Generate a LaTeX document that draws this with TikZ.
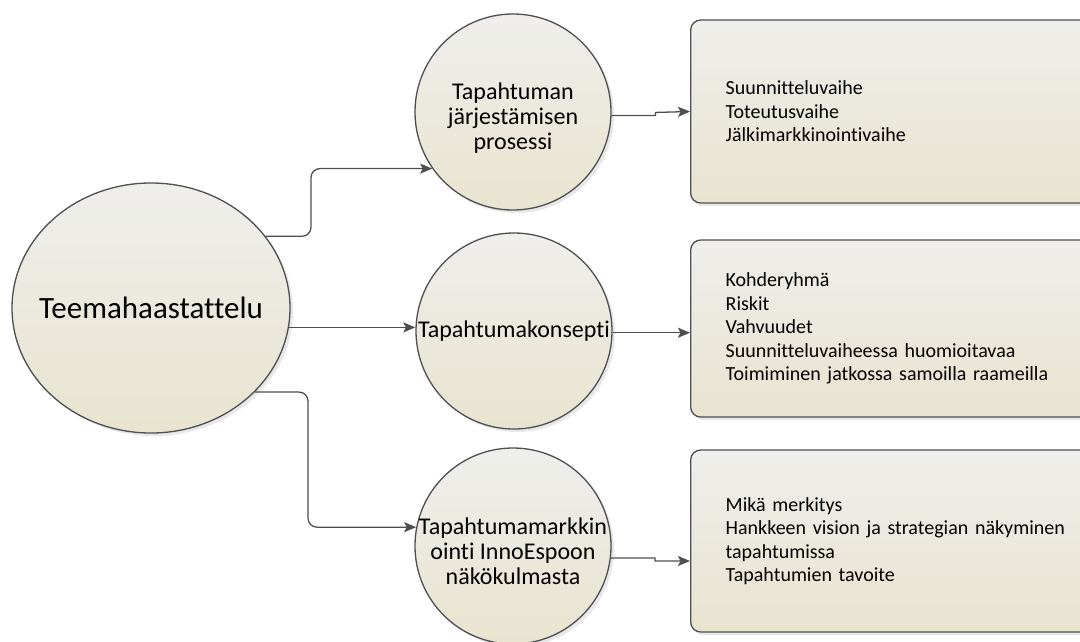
\documentclass[tikz,border=0pt]{standalone}
\usepackage{fontspec}
\setmainfont{Carlito}[Ligatures=NoCommon]
\usepackage{tikz}
\usetikzlibrary{arrows.meta,positioning,shapes.geometric,shadows}
\definecolor{edge}{HTML}{4F4F52}
\definecolor{paleA}{HTML}{EEEEEC}
\definecolor{paleB}{HTML}{E9E4CF}

\begin{document}
\begin{tikzpicture}[x=1pt, y=-1pt,
    topic/.style={ellipse, draw=edge, line width=1.3pt, top color=paleA, bottom color=paleB,
      drop shadow={shadow xshift=3pt, shadow yshift=-3pt, fill=black!18},
      minimum width=278pt, minimum height=250pt, inner sep=-20pt,
      font=\fontsize{31}{37}\selectfont},
    sub/.style={circle, draw=edge, line width=1.3pt, top color=paleA, bottom color=paleB,
      drop shadow={shadow xshift=3pt, shadow yshift=-3pt, fill=black!18},
      minimum size=196pt, inner sep=-12pt, align=center,
      font=\fontsize{24}{25}\selectfont},
    info/.style={rectangle, draw=edge, line width=1.3pt, rounded corners=10pt,
      top color=paleA, bottom color=paleB,
      drop shadow={shadow xshift=2pt, shadow yshift=-3pt, fill=black!18},
      anchor=west, minimum height=183pt, inner xsep=35pt, text width=380pt, align=left,
      font=\fontsize{20}{23.5}\selectfont},
    arrow/.style={-{Stealth[length=12pt, width=10pt, inset=2.5pt]}, draw=edge, line width=1.3pt}
  ]
    \useasboundingbox (0,0) rectangle (1080,641);
    \node[topic] (tee) at (151,308) {Teemahaastattelu};
    \node[sub, text height=78pt] (c1) at (513,112) {Tapahtuman\\järjestämisen\\prosessi};
    \node[sub] (c2) at (514,331) {Tapahtumakonsepti};
    \node[sub, text height=78pt] (c3) at (513,546) {Tapahtumamarkkin\\ointi InnoEspoon\\näkökulmasta};
    \node[info] (b1) at (690,111.5) {Suunnitteluvaihe\\Toteutusvaihe\\Jälkimarkkinointivaihe};
    \node[info, minimum height=177pt] (b2) at (690,328.5) {Kohderyhmä\\Riskit\\Vahvuudet\\Suunnitteluvaiheessa huomioitavaa\\Toimiminen jatkossa samoilla raameilla};
    \node[info, minimum height=182pt] (b3) at (690,541) {Mikä merkitys\\Hankkeen vision ja strategian näkyminen\\tapahtumissa\\Tapahtumien tavoite};
    \coordinate (j1) at (311,0);
    \coordinate (j3) at (308,0);
    \draw[arrow, rounded corners=9pt] (tee.32) -| (j1 |- c1.215) -- (c1.215);
    \draw[arrow] (tee.-8) -- (tee.-8 -| c2.west);
    \draw[arrow, rounded corners=9pt] (tee.-39) -| (j3 |- c3.169) -- (c3.169);
    \draw[arrow] (c1.-2) -- ++(44,0) -- ++(0,-3) -- (b1.west);
    \draw[arrow] (c2.-1) -- (c2.-1 -| b2.west);
    \draw[arrow] (c3.-7) -- ++(44,0) -- ++(0,3) -- ([yshift=-20pt]b3.west);
  \end{tikzpicture}
\end{document}
